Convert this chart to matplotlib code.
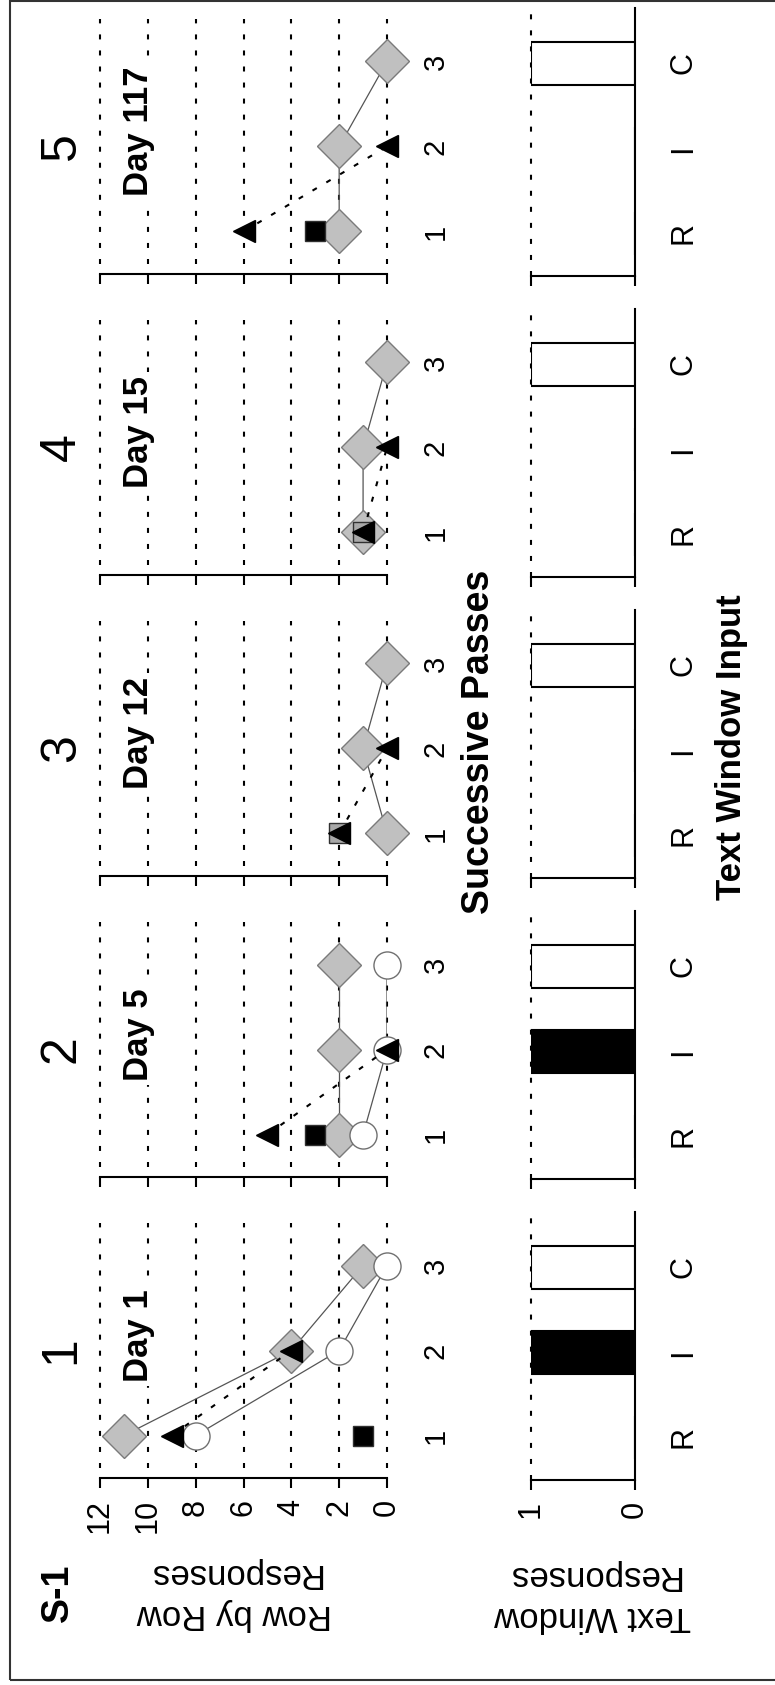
import matplotlib
matplotlib.use("Agg")
import matplotlib.pyplot as plt
from matplotlib.patches import Rectangle

plt.rcParams['font.family'] = ['Liberation Sans', 'DejaVu Sans']

# data, one entry per panel (panel 1 = Day 1 ... panel 5 = Day 117)
panel_ids = ['1', '2', '3', '4', '5']
days = ['Day 1', 'Day 5', 'Day 12', 'Day 15', 'Day 117']
passes = [1, 2, 3]
diamond_vals = [[11, 4, 1], [2, 2, 2], [0, 1, 0], [1, 1, 0], [2, 2, 0]]
circle_vals = [[8, 2, 0], [1, 0, 0], None, None, None]
triangle_vals = [[9, 4], [5, 0], [2, 0], [1, 0], [6, 0]]
square_vals = [[1], [3], [2], [1], [3]]
row_ticks = [0, 2, 4, 6, 8, 10, 12]
text_cats = ['R', 'I', 'C']
text_vals = [[0, 1, 1], [0, 1, 1], [0, 0, 1], [0, 0, 1], [0, 0, 1]]

W, H = 775, 1685
fig = plt.figure(figsize=(W / 100, H / 100), dpi=100)


def rect(x0, ybot, w, h):
    # pixel box (top-left origin) -> figure fraction
    return [x0 / W, (H - ybot) / H, w / W, h / H]


dots = (0, (2.4, 5.3))
square_face = ['black', 'black', '#a8a8a8', '#a8a8a8', 'black']
bar_colors = ['white', 'black', 'white']

for i in range(5):
    spine_y = 1478 - 301 * i

    # ---- row by row panel (rotated: value runs right-to-left, pass bottom-to-top)
    ax = fig.add_axes(rect(100, spine_y, 287, 255))
    ax.set_xlim(12, 0)
    ax.set_ylim(0.5, 3.5)
    ax.patch.set_alpha(0)
    for s in ['top', 'right', 'left']:
        ax.spines[s].set_visible(False)
    ax.spines['bottom'].set_linewidth(1.5)
    for v in row_ticks:
        ax.plot([v, v], [0.62, 3.5], ls=dots, color='black', lw=1.5,
                clip_on=False, zorder=1)
    ax.set_xticks(row_ticks)
    ax.tick_params(axis='x', direction='out', length=7, width=1.5,
                   labelsize=22, labelrotation=90, pad=8,
                   labelbottom=(i == 0))
    ax.yaxis.tick_right()
    ax.set_yticks(passes)
    ax.set_yticklabels([str(p) for p in passes])
    ax.tick_params(axis='y', length=0, labelsize=21, labelrotation=90, pad=25)
    for t in ax.get_yticklabels():
        t.set_va('center')

    ax.plot(diamond_vals[i], passes, color='#555555', lw=0.9, zorder=2)
    ax.plot(diamond_vals[i], passes, ls='none', marker='D', ms=22.5,
            mfc='#c0c0c0', mec='#7a7a7a', mew=1, zorder=3, clip_on=False)
    if circle_vals[i] is not None:
        ax.plot(circle_vals[i], passes, color='#555555', lw=0.9, zorder=2)
        ax.plot(circle_vals[i], passes, ls='none', marker='o', ms=19.5,
                mfc='white', mec='#707070', mew=1, zorder=4, clip_on=False)
    sq_pass = passes[:len(square_vals[i])]
    ax.plot(square_vals[i], sq_pass, ls='none', marker='s', ms=15,
            mfc=square_face[i], mec='#303030', mew=1, zorder=5, clip_on=False)
    tri_pass = passes[:len(triangle_vals[i])]
    ax.plot(triangle_vals[i], tri_pass, ls=dots, color='black', lw=1.5, zorder=5)
    ax.plot(triangle_vals[i], tri_pass, ls='none', marker='<', ms=16,
            color='black', zorder=6, clip_on=False)

    ax.text(10.4, 2.18, days[i], rotation=90, fontsize=25, fontweight='bold',
            ha='center', va='center', zorder=7,
            bbox=dict(facecolor='white', edgecolor='none', pad=3))
    ax.text(13.6, 2.0, panel_ids[i], rotation=90, fontsize=36,
            ha='center', va='center', clip_on=False)

    # ---- text window panel
    bx = fig.add_axes(rect(531, spine_y + 2, 104, 268))
    bx.set_xlim(1, 0)
    bx.set_ylim(0.5, 3.65)
    bx.patch.set_alpha(0)
    for s in ['top', 'left']:
        bx.spines[s].set_visible(False)
    bx.spines['bottom'].set_linewidth(1.5)
    bx.spines['right'].set_linewidth(1.5)
    bx.plot([1, 1], [0.5, 3.65], ls=dots, color='black', lw=1.5,
            clip_on=False, zorder=1)
    bx.barh(passes, text_vals[i], height=0.5, color=bar_colors,
            edgecolor='black', linewidth=1.5, zorder=2)
    bx.set_xticks([0, 1])
    bx.tick_params(axis='x', direction='out', length=7, width=1.5,
                   labelsize=22, labelrotation=90, pad=8,
                   labelbottom=(i == 0))
    bx.yaxis.tick_right()
    bx.set_yticks(passes)
    bx.set_yticklabels(text_cats)
    bx.tick_params(axis='y', length=0, labelsize=22, labelrotation=90, pad=24)
    for t in bx.get_yticklabels():
        t.set_va('center')

fig.text(58 / W, 1 - 1593 / H, 'S-1', rotation=90, fontsize=27,
         fontweight='bold', ha='center', va='center')
fig.text(234 / W, 1 - 1594 / H, 'Row by Row\nResponses', rotation=180,
         fontsize=25, ha='center', va='center', multialignment='center',
         linespacing=1.3)
fig.text(593 / W, 1 - 1596 / H, 'Text Window\nResponses', rotation=180,
         fontsize=25, ha='center', va='center', multialignment='center',
         linespacing=1.3)
fig.text(479 / W, 1 - 742 / H, 'Successive Passes', rotation=90, fontsize=27,
         fontweight='bold', ha='center', va='center')
fig.text(731 / W, 1 - 747 / H, 'Text Window Input', rotation=90, fontsize=25,
         fontweight='bold', ha='center', va='center')

fig.add_artist(Rectangle((10 / W, 5 / H), 780 / W, 1679 / H, fill=False,
                         transform=fig.transFigure, lw=1.5, ec='#333333'))

fig.savefig('out.png', dpi=100)
